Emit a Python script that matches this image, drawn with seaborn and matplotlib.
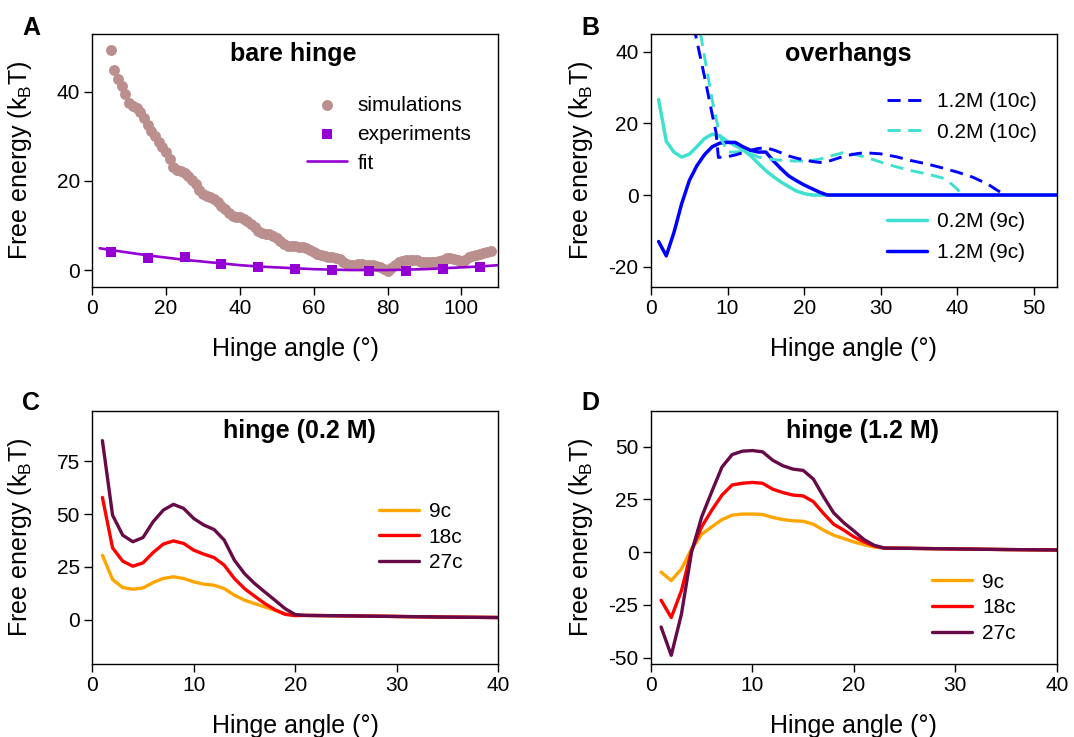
"""free energy of the hinge: simulations vs experiments, overhangs and salt

"""
import numpy as np
import matplotlib
matplotlib.use("Agg")
import matplotlib.pyplot as plt
import seaborn as sns
import pandas as pd

# ---- panel A: bare hinge
sim_angle = list(range(5, 109))
sim_energy = [49.5, 45.0, 42.8, 41.3, 39.5, 37.4, 36.8, 36.3, 35.5, 34.2,
              32.5, 31.2, 30.0, 28.8, 27.6, 26.5, 25.0, 23.2, 22.5, 22.3,
              21.8, 21.2, 20.3, 19.3, 18.0, 17.1, 16.6, 16.3, 15.9, 15.2,
              14.4, 13.6, 12.8, 12.1, 11.9, 11.9, 11.5, 11.0, 10.3, 9.6,
              8.8, 8.3, 8.1, 8.0, 7.7, 7.1, 6.5, 5.8, 5.4, 5.3,
              5.3, 5.2, 5.1, 4.9, 4.5, 4.1, 3.7, 3.4, 3.2, 3.0,
              2.9, 2.8, 2.5, 1.9, 1.4, 1.2, 1.1, 1.3, 1.3, 1.1,
              1.1, 1.1, 0.9, 0.7, 0.2, -0.3, 0.4, 1.2, 1.8, 2.1,
              2.3, 2.3, 2.3, 2.2, 1.9, 1.9, 1.9, 1.9, 1.9, 2.1,
              2.3, 2.7, 2.8, 2.5, 2.2, 1.9, 2.3, 3.0, 3.2, 3.4,
              3.6, 3.8, 4.0, 4.2]
exp_angle = [5, 15, 25, 35, 45, 55, 65, 75, 85, 95, 105]
exp_energy = [4.1, 2.8, 3.0, 1.35, 0.75, 0.3, 0.0, -0.1, -0.1, 0.15, 0.75]
fit_angle = [2, 5, 10, 15, 20, 25, 30, 35, 40, 45, 50, 55, 60, 65, 70, 75,
             80, 85, 90, 95, 100, 105, 110]
fit_energy = [4.9, 4.5, 3.9, 3.3, 2.8, 2.3, 1.9, 1.5, 1.1, 0.8, 0.6, 0.4,
              0.2, 0.1, 0.0, 0.0, 0.0, 0.1, 0.2, 0.4, 0.6, 0.8, 1.1]

# ---- panel B: overhangs
oh9_angle = list(range(1, 24)) + [53]
oh9_low = [26.7, 15.0, 12.0, 10.6, 11.4, 13.5, 15.8, 17.0, 16.5, 15.0,
           13.8, 12.7, 11.0, 8.9, 6.8, 5.1, 3.6, 2.3, 1.1, 0.4,
           0.0, 0.0, 0.0, 0.0]
oh9_high = [-13.0, -17.0, -10.5, -2.5, 4.0, 8.2, 11.3, 13.5, 14.5, 14.7,
            14.7, 13.5, 12.5, 12.0, 12.0, 9.5, 7.3, 5.3, 4.0, 2.8,
            1.8, 0.8, 0.0, 0.0]
oh10_high_angle = [5, 6, 7, 8, 8.5, 8.8, 10, 11, 12, 13, 14, 15, 16, 17, 18,
                   19, 20, 21, 22, 23, 24, 25, 26, 27, 28, 30, 32, 34, 36,
                   38, 40, 42, 44, 45, 46]
oh10_high = [53, 43, 33, 22.5, 17.5, 10.5, 10.7, 11.2, 11.8, 12.5, 13.0,
             13.2, 12.6, 11.8, 10.9, 10.3, 9.8, 9.4, 9.1, 9.3, 10.0, 10.7,
             11.2, 11.6, 11.8, 11.5, 10.7, 9.6, 8.7, 7.6, 6.4, 5.0, 3.0,
             1.6, 0.3]
oh10_low_angle = [6, 7, 8, 9, 10, 11, 12, 13, 14, 15, 16, 17, 18, 19, 20,
                  21, 22, 23, 24, 25, 26, 27, 28, 30, 32, 34, 36, 38, 39,
                  40, 40.5]
oh10_low = [51, 38.6, 26.5, 16.5, 12.0, 12.0, 12.2, 11.6, 10.6, 10.2, 9.9,
            9.7, 9.6, 9.5, 9.5, 9.7, 10.0, 10.6, 11.2, 11.8, 11.6, 11.1,
            10.6, 9.2, 7.9, 6.8, 5.9, 4.8, 3.5, 1.6, 0.4]

# ---- panel C: hinge 0.2 M
c_angle = list(range(1, 21)) + [21, 25, 30, 35, 40]
c_9c = [30.5, 19.0, 15.2, 14.4, 15.0, 17.6, 19.5, 20.3, 19.5, 17.9,
        16.8, 16.3, 14.7, 11.6, 9.2, 7.6, 6.0, 4.4, 2.8, 2.1,
        2.0, 1.8, 1.5, 1.2, 1.0]
c_18c = [57.9, 34.0, 27.7, 25.3, 26.9, 31.8, 35.8, 37.3, 36.1, 32.9,
         31.0, 29.4, 25.8, 19.5, 14.7, 11.1, 7.6, 4.7, 2.5, 1.9,
         2.0, 1.8, 1.5, 1.2, 1.0]
c_27c = [84.8, 49.5, 40.0, 36.9, 38.9, 46.4, 51.9, 54.6, 52.7, 47.9,
         44.8, 42.7, 37.7, 28.2, 21.8, 17.1, 13.1, 9.2, 5.2, 2.4,
         2.0, 1.8, 1.5, 1.2, 1.0]

# ---- panel D: hinge 1.2 M
d_angle = list(range(1, 24)) + [25, 30, 35, 40]
d_9c = [-9.5, -13.5, -8.0, 1.5, 8.5, 12.0, 15.4, 17.5, 18.0, 18.0, 17.8,
        16.4, 15.4, 14.8, 14.6, 13.2, 10.4, 8.0, 6.4, 4.8, 3.5, 2.4, 1.9,
        1.8, 1.5, 1.2, 1.0]
d_18c = [-22.8, -31.0, -18.3, 0.8, 12.0, 19.9, 27.0, 31.8, 32.6, 33.0, 32.6,
         29.8, 28.2, 27.0, 26.6, 23.9, 18.3, 13.2, 10.4, 7.2, 4.8, 2.9, 1.9,
         1.8, 1.5, 1.2, 1.0]
d_27c = [-35.5, -48.9, -29.5, 0.0, 16.7, 28.7, 40.3, 46.2, 47.8, 48.1, 47.5,
         43.5, 40.9, 39.3, 38.7, 34.6, 26.3, 18.6, 13.9, 10.0, 5.9, 3.2, 1.9,
         1.8, 1.5, 1.2, 1.0]

cycle_labels = ["9c", "18c", "27c"]
cycle_colors = ["#FFA500", "#FF0000", "#660A48"]

sns.set_style("ticks")
plt.rcParams["font.family"] = ["Liberation Sans", "DejaVu Sans"]
plt.rcParams["mathtext.fontset"] = "custom"
plt.rcParams["mathtext.rm"] = "Liberation Sans"
plt.rcParams["axes.unicode_minus"] = False
plt.rcParams["axes.linewidth"] = 1.0
plt.rcParams["axes.edgecolor"] = "black"
plt.rcParams["text.color"] = "black"
plt.rcParams["axes.labelcolor"] = "black"
for a in ["x", "y"]:
    plt.rcParams[f"{a}tick.direction"] = "out"
    plt.rcParams[f"{a}tick.major.size"] = 5.5
    plt.rcParams[f"{a}tick.major.width"] = 1.0
    plt.rcParams[f"{a}tick.major.pad"] = 3.5
    plt.rcParams[f"{a}tick.labelsize"] = 15
    plt.rcParams[f"{a}tick.color"] = "black"
    plt.rcParams[f"{a}tick.labelcolor"] = "black"

YLABEL = r"Free energy (k$_\mathrm{B}$T)"
XLABEL = "Hinge angle (°)"


def style_axes(ax, xlim, ylim, xticks, yticks, title, tx, ylab_x):
    ax.set_xlim(*xlim)
    ax.set_ylim(*ylim)
    ax.set_xticks(xticks)
    ax.set_yticks(yticks)
    ax.set_xlabel(XLABEL, fontsize=18)
    ax.set_ylabel(YLABEL, fontsize=18)
    ax.xaxis.set_label_coords(0.5, -0.197)
    ax.yaxis.set_label_coords(ylab_x, 0.5)
    ax.text(tx, 0.893, title, transform=ax.transAxes, ha="center",
            va="baseline", fontsize=18, fontweight="bold")
    for s in ax.spines.values():
        s.set_visible(True)
        s.set_linewidth(1.0)


def line_legend(ax, handles, labels, anchor, spacing):
    return ax.legend(handles, labels, loc="upper left", bbox_to_anchor=anchor,
                     frameon=False, fontsize=15, handlelength=1.92,
                     handletextpad=0.48, borderpad=0, borderaxespad=0,
                     labelspacing=spacing)


fig = plt.figure(figsize=(10.74, 7.37), dpi=100)
axA = fig.add_axes([0.0859, 0.6106, 0.378, 0.3433])
axB = fig.add_axes([0.6061, 0.6106, 0.378, 0.3433])
axC = fig.add_axes([0.0859, 0.0991, 0.378, 0.3437])
axD = fig.add_axes([0.6061, 0.0991, 0.378, 0.3437])

# A
sns.scatterplot(x=sim_angle, y=sim_energy, color="#BC8F8F", s=62,
                linewidth=0, ax=axA, label="simulations", zorder=2)
sns.lineplot(x=fit_angle, y=fit_energy, color="#9400D3", linewidth=1.9,
             ax=axA, label="fit", zorder=3)
sns.scatterplot(x=exp_angle, y=exp_energy, color="#9400D3", marker="s", s=44,
                linewidth=0, ax=axA, label="experiments", zorder=4)
h, l = axA.get_legend_handles_labels()
order = [l.index("simulations"), l.index("experiments"), l.index("fit")]
line_legend(axA, [h[i] for i in order], [l[i] for i in order],
            (0.53, 0.755), 0.47)
style_axes(axA, (0, 110), (-3.8, 53), [0, 20, 40, 60, 80, 100], [0, 20, 40],
           "bare hinge", 0.494, -0.143)

# B
lw_solid = 2.5
dash = [4.5, 2.6]
sns.lineplot(x=oh9_angle, y=oh9_low, color="#40E0D0", linewidth=lw_solid,
             ax=axB, label="0.2M (9c)")
sns.lineplot(x=oh9_angle, y=oh9_high, color="#0000FF", linewidth=lw_solid,
             ax=axB, label="1.2M (9c)")
sns.lineplot(x=oh10_low_angle, y=oh10_low, color="#40E0D0", linewidth=2.1,
             ax=axB, label="0.2M (10c)")
axB.lines[-1].set_dashes(dash)
sns.lineplot(x=oh10_high_angle, y=oh10_high, color="#0000FF", linewidth=2.1,
             ax=axB, label="1.2M (10c)")
axB.lines[-1].set_dashes(dash)
h, l = axB.get_legend_handles_labels()
hd = dict(zip(l, h))
top = line_legend(axB, [hd["1.2M (10c)"], hd["0.2M (10c)"]],
                  ["1.2M (10c)", "0.2M (10c)"], (0.5805, 0.77), 0.55)
axB.add_artist(top)
line_legend(axB, [hd["0.2M (9c)"], hd["1.2M (9c)"]],
            ["0.2M (9c)", "1.2M (9c)"], (0.5805, 0.295), 0.58)
style_axes(axB, (0, 53), (-25.7, 45), [0, 10, 20, 30, 40, 50],
           [-20, 0, 20, 40], "overhangs", 0.487, -0.139)

# C and D
panels = [(axC, c_angle, [c_9c, c_18c, c_27c]),
          (axD, d_angle, [d_9c, d_18c, d_27c])]
for ax, xs, series in panels:
    df = pd.DataFrame({"angle": xs * 3,
                       "energy": sum(series, []),
                       "cycles": np.repeat(cycle_labels, len(xs))})
    sns.lineplot(data=df, x="angle", y="energy", hue="cycles",
                 palette=cycle_colors, hue_order=cycle_labels,
                 linewidth=2.4, ax=ax, legend=True)
h, l = axC.get_legend_handles_labels()
line_legend(axC, h, l, (0.7057, 0.64), 0.32)
h, l = axD.get_legend_handles_labels()
line_legend(axD, h, l, (0.693, 0.36), 0.32)
style_axes(axC, (0, 40), (-21, 99), [0, 10, 20, 30, 40], [0, 25, 50, 75],
           "hinge (0.2 M)", 0.511, -0.143)
style_axes(axD, (0, 40), (-53, 67), [0, 10, 20, 30, 40],
           [-50, -25, 0, 25, 50], "hinge (1.2 M)", 0.521, -0.139)

for letter, x, y in [("A", 0.0205, 0.9525), ("B", 0.541, 0.9525),
                     ("C", 0.0205, 0.4437), ("D", 0.541, 0.4437)]:
    fig.text(x, y, letter, fontsize=18, fontweight="bold", va="baseline")

fig.savefig("out.png", dpi=100)
